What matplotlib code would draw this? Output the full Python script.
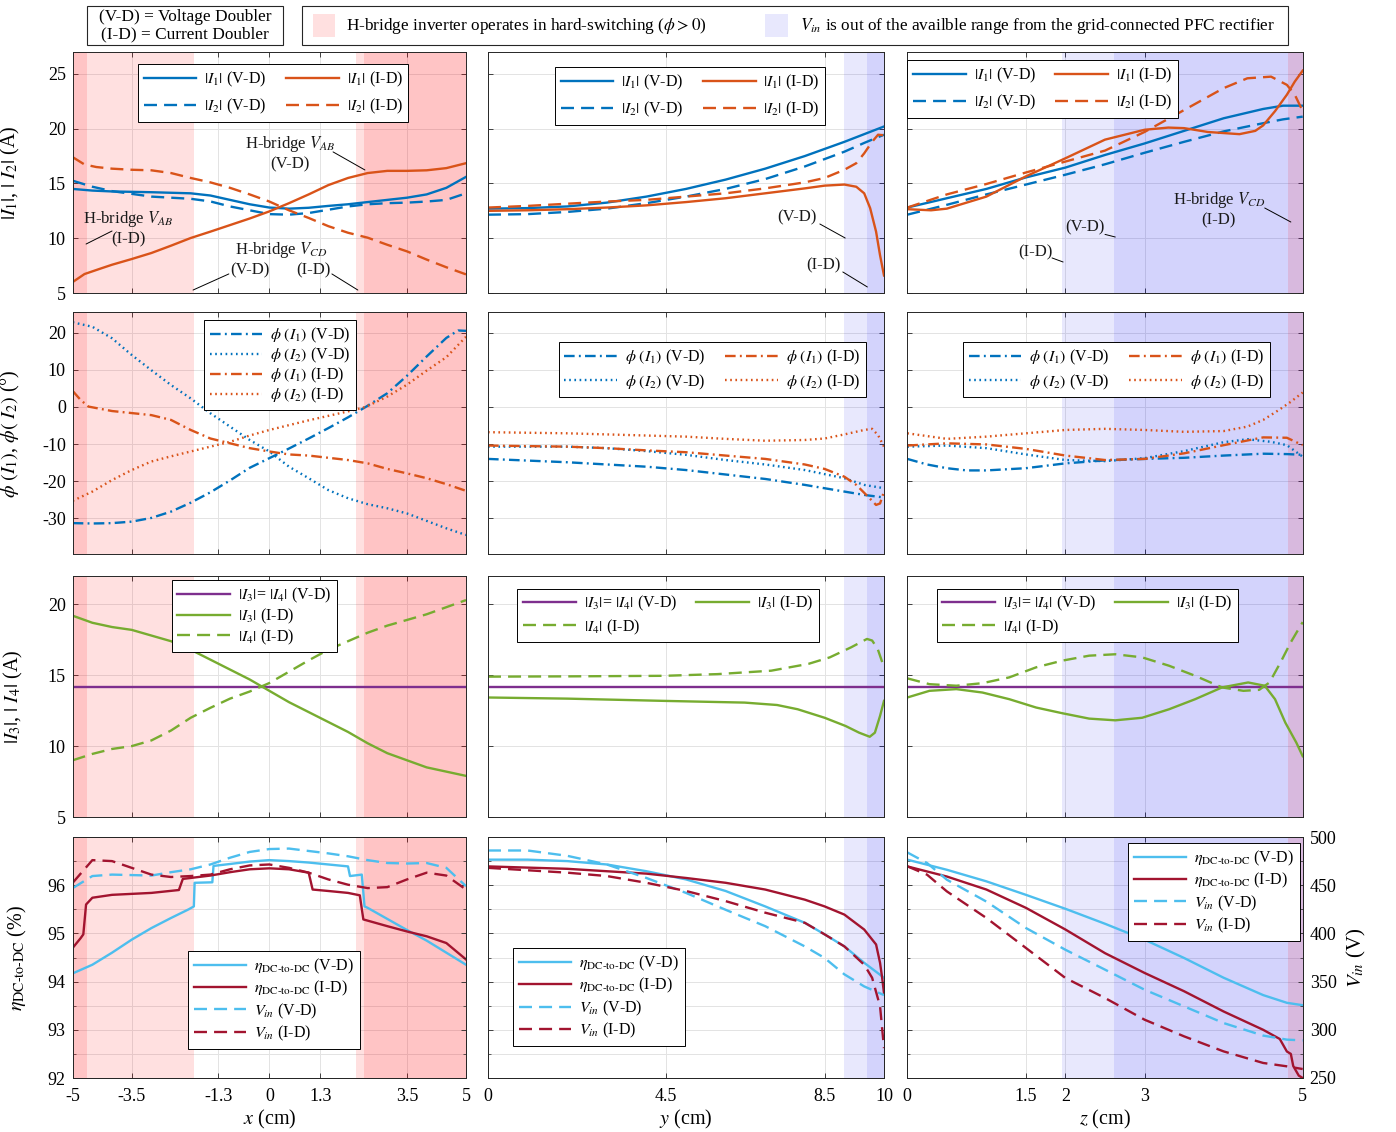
import matplotlib
matplotlib.use('Agg')
import matplotlib.pyplot as plt
from matplotlib.patches import Rectangle
from matplotlib.ticker import MultipleLocator

plt.rcParams['font.family'] = ['Liberation Serif', 'DejaVu Serif']
plt.rcParams['mathtext.fontset'] = 'stix'
plt.rcParams['axes.unicode_minus'] = False

# ---------------------------------------------------------------- data
# sweep positions (cm)
x_grid = [-5, -4.5, -4, -3.5, -3, -2.5, -2, -1.5, -1, -0.5, 0, 0.5, 1, 1.5, 2, 2.5, 3, 3.5, 4, 4.5, 5]
x_ticks = [-5, -3.5, -1.3, 0, 1.3, 3.5, 5]
x_ticklabels = ['-5', '-3.5', '-1.3', '0', '1.3', '3.5', '5']
y_ticks = [0, 4.5, 8.5, 10]
y_ticklabels = ['0', '4.5', '8.5', '10']
z_ticks = [0, 1.5, 2, 3, 5]
z_ticklabels = ['0', '1.5', '2', '3', '5']

# hard-switching and V_in out-of-range regions (cm)
hs_span_vd_x = [(-5, -1.92), (2.2, 5)]
hs_span_id_x = [(-5, -4.64), (2.41, 5)]
vin_span_vd_y = [(9.0, 10)]
vin_span_id_y = [(9.58, 10)]
vin_span_id_z = [(1.95, 5)]
vin_span_vd_z = [(2.62, 5)]
hs_span_id_z = [(4.82, 5)]

# |I1|, |I2| (A) -- x sweep
x_i12_vd = [-5, -4.5, -4, -3, -2, -1.5, -1, -0.5, 0, 0.5, 1, 1.5, 2, 2.5, 3, 3.5, 4, 4.5, 5]
i1_vd_x = [14.5, 14.35, 14.27, 14.2, 14.1, 13.9, 13.5, 13.1, 12.8, 12.7, 12.78, 12.95, 13.1, 13.3, 13.5, 13.7, 14.0, 14.6, 15.6]
i2_vd_x = [15.25, 14.7, 14.3, 13.8, 13.6, 13.36, 12.9, 12.55, 12.2, 12.15, 12.3, 12.6, 12.9, 13.1, 13.2, 13.25, 13.35, 13.5, 14.1]
x_i1_id = [-5, -4.7, -4.3, -4, -3.5, -3, -2.5, -2, -1.5, -1, -0.5, 0, 0.5, 1, 1.5, 2, 2.5, 3, 3.5, 4, 4.5, 5]
i1_id_x = [6.0, 6.73, 7.22, 7.58, 8.1, 8.65, 9.32, 10.02, 10.6, 11.2, 11.8, 12.45, 13.2, 14.0, 14.85, 15.5, 15.95, 16.15, 16.15, 16.2, 16.4, 16.85]
x_i2_id = [-5, -4.7, -4.4, -4, -3.5, -3, -2.5, -2, -1.5, -1, -0.5, 0, 0.5, 1, 1.5, 2, 2.5, 3, 3.5, 4, 4.5, 5]
i2_id_x = [17.4, 16.73, 16.5, 16.35, 16.25, 16.2, 15.95, 15.5, 15.1, 14.6, 14.0, 13.35, 12.55, 11.85, 11.1, 10.5, 10.05, 9.4, 8.8, 8.05, 7.35, 6.7]

# |I1|, |I2| (A) -- y sweep
y_i12_vd = [0, 1, 2, 3, 4, 5, 6, 7, 8, 9, 9.5, 10]
i1_vd_y = [12.7, 12.75, 12.9, 13.25, 13.8, 14.5, 15.35, 16.35, 17.5, 18.8, 19.5, 20.2]
i2_vd_y = [12.15, 12.2, 12.4, 12.7, 13.2, 13.8, 14.5, 15.4, 16.55, 17.9, 18.7, 19.45]
y_i1_id = [0, 1, 2, 3, 4, 5, 6, 7, 8, 8.5, 9, 9.3, 9.5, 9.65, 9.8, 9.9, 10]
i1_id_y = [12.5, 12.55, 12.65, 12.8, 13.0, 13.3, 13.65, 14.1, 14.55, 14.8, 14.9, 14.7, 14.1, 12.75, 10.6, 8.45, 6.6]
y_i2_id = [0, 1, 2, 3, 4, 5, 6, 7, 8, 8.5, 9, 9.3, 9.5, 9.7, 9.85, 10]
i2_id_y = [12.8, 12.95, 13.15, 13.35, 13.5, 13.8, 14.1, 14.55, 15.1, 15.5, 16.25, 16.85, 17.75, 18.8, 19.45, 19.4]

# |I1|, |I2| (A) -- z sweep
z_i12_vd = [0, 0.5, 1, 1.5, 2, 2.5, 3, 3.5, 4, 4.5, 4.75, 5]
i1_vd_z = [12.8, 13.65, 14.5, 15.55, 16.45, 17.6, 18.65, 19.8, 20.95, 21.8, 22.1, 22.1]
i2_vd_z = [12.15, 13.05, 14.0, 14.9, 15.8, 16.75, 17.8, 18.8, 19.75, 20.5, 20.85, 21.1]
z_i1_id = [0, 0.3, 0.5, 1, 1.5, 2, 2.5, 3, 3.3, 3.5, 3.8, 4.2, 4.4, 4.5, 4.65, 4.8, 4.9, 5]
i1_id_z = [12.65, 12.55, 12.7, 13.8, 15.65, 17.3, 19.0, 19.9, 20.1, 20.05, 19.7, 19.5, 19.8, 20.3, 21.6, 23.1, 24.3, 25.3]
z_i2_id = [0, 0.5, 1, 1.5, 2, 2.5, 3, 3.5, 4, 4.3, 4.6, 4.8, 4.9, 5]
i2_id_z = [12.8, 14.0, 14.95, 16.0, 17.0, 18.0, 19.7, 21.7, 23.7, 24.6, 24.75, 24.0, 23.1, 21.6]

# phase angles (deg) -- x sweep
x_p1_vd = [-5, -4.5, -4, -3.5, -3, -2.5, -2, -1.5, -1, -0.5, 0, 0.5, 1, 1.5, 2, 2.45, 3, 3.5, 4, 4.5, 4.8, 5]
p1_vd_x = [-31.3, -31.4, -31.3, -30.9, -29.9, -28.2, -25.8, -23.0, -19.8, -16.4, -13.8, -11.2, -8.5, -5.7, -2.8, 0.0, 3.7, 8.4, 13.6, 18.6, 20.6, 20.5]
p2_vd_x = [22.8, 21.6, 18.5, 14.0, 9.9, 5.9, 2.3, -1.7, -5.3, -8.9, -12.0, -16.1, -19.2, -22.4, -24.6, -26.2, -27.3, -28.7, -30.7, -32.7, -34.5]
x_p1_id = [-5, -4.8, -4.6, -4, -3, -2.5, -2, -1.5, -1, -0.5, 0, 0.5, 1, 1.5, 2, 2.5, 3, 3.5, 4, 4.5, 5]
p1_id_x = [4.3, 1.9, 0.1, -1.1, -2.2, -3.5, -6.2, -8.5, -9.8, -11.1, -12.0, -12.8, -13.1, -13.7, -14.3, -15.2, -16.7, -17.9, -19.2, -20.8, -22.6]
x_p2_id = [-5, -4.5, -4, -3.5, -3, -2.5, -2, -1.5, -1, -0.5, 0, 0.5, 1, 1.5, 2, 2.45, 3, 3.5, 4, 4.5, 5]
p2_id_x = [-25.3, -22.8, -19.7, -17.0, -14.7, -13.3, -12.0, -10.7, -9.4, -7.7, -6.2, -4.9, -3.6, -2.4, -1.2, 0.0, 2.8, 6.0, 9.8, 13.4, 18.9]

# phase angles (deg) -- y sweep
y_p1_vd = [0, 2, 4, 5, 6, 7, 8, 9, 9.5, 10]
p1_vd_y = [-14.0, -14.9, -16.1, -17.0, -18.2, -19.4, -21.0, -22.8, -23.7, -24.4]
y_p2_vd = [0, 2, 3, 4, 5, 6, 7, 8, 9, 9.5, 10]
p2_vd_y = [-10.7, -10.7, -11.1, -11.9, -12.9, -14.3, -15.5, -17.0, -19.2, -21.0, -21.9]
y_p1_id = [0, 2, 3, 4, 5, 6, 7, 8, 8.5, 9, 9.3, 9.6, 9.8, 9.9, 10]
p1_id_y = [-10.4, -10.7, -11.1, -11.7, -12.2, -13.1, -14.0, -15.5, -16.7, -18.8, -21.0, -24.2, -26.4, -26.0, -22.8]
y_p2_id = [0, 2, 4, 5, 6, 7, 8, 8.5, 9, 9.5, 9.7, 9.85, 10]
p2_id_y = [-6.8, -7.1, -7.7, -8.0, -8.6, -9.1, -8.9, -8.5, -7.4, -6.2, -5.9, -7.6, -10.7]

# phase angles (deg) -- z sweep
z_p1_vd = [0, 0.25, 0.5, 0.75, 1, 1.5, 2, 2.5, 3, 3.5, 4, 4.5, 4.8, 5]
p1_vd_z = [-14.0, -15.5, -16.5, -17.1, -17.1, -16.5, -15.2, -14.4, -14.0, -13.7, -13.1, -12.6, -12.7, -12.9]
z_p2_vd = [0, 0.5, 1, 1.5, 2, 2.5, 3, 3.5, 4, 4.3, 4.6, 4.8, 5]
p2_vd_z = [-10.7, -10.4, -11.1, -12.8, -14.3, -14.6, -13.8, -11.9, -9.5, -8.7, -9.4, -10.3, -13.4]
z_p1_id = [0, 0.5, 1, 1.5, 2, 2.5, 3, 3.5, 4, 4.5, 4.8, 5]
p1_id_z = [-10.4, -9.8, -10.1, -11.3, -13.1, -14.3, -14.0, -12.5, -10.3, -8.2, -8.3, -10.3]
z_p2_id = [0, 0.5, 1, 1.5, 2, 2.5, 3, 3.5, 4, 4.3, 4.5, 4.7, 4.85, 5]
p2_id_z = [-7.1, -8.6, -8.0, -7.1, -6.2, -5.9, -6.2, -6.7, -6.5, -5.3, -3.5, -0.8, 1.4, 3.9]

# |I3|, |I4| (A)
i34_vd = [14.15, 14.15]
i3_id_x = [19.2, 18.7, 18.4, 18.2, 17.8, 17.4, 16.8, 16.1, 15.4, 14.7, 13.9, 13.1, 12.4, 11.7, 11.0, 10.2, 9.5, 9.0, 8.5, 8.2, 7.9]
i4_id_x = [9.0, 9.45, 9.8, 10.0, 10.4, 11.1, 12.0, 12.7, 13.35, 13.85, 14.45, 15.25, 16.05, 16.8, 17.4, 18.0, 18.5, 18.9, 19.3, 19.8, 20.3]
y_i3_id = [0, 2, 4.46, 6.48, 7.3, 7.82, 8.5, 9.03, 9.37, 9.64, 9.77, 9.9, 10]
i3_id_y = [13.43, 13.35, 13.19, 13.07, 12.9, 12.6, 12.0, 11.42, 10.95, 10.66, 10.95, 12.13, 13.19]
y_i4_id = [0, 2, 4.46, 5.8, 7.15, 8.09, 8.63, 9.17, 9.57, 9.7, 9.84, 10]
i4_id_y = [14.9, 14.92, 14.96, 15.08, 15.32, 15.8, 16.26, 16.97, 17.56, 17.45, 16.86, 15.56]
z_i3_id = [0, 0.28, 0.62, 0.95, 1.29, 1.63, 1.96, 2.3, 2.63, 2.97, 3.31, 3.64, 3.98, 4.31, 4.52, 4.65, 4.78, 4.92, 5]
i3_id_z = [13.43, 13.9, 14.02, 13.78, 13.31, 12.72, 12.32, 11.94, 11.82, 12.0, 12.6, 13.31, 14.14, 14.49, 14.26, 13.31, 11.66, 10.24, 9.29]
z_i4_id = [0, 0.28, 0.62, 0.95, 1.29, 1.63, 1.96, 2.3, 2.63, 2.97, 3.31, 3.64, 3.98, 4.25, 4.45, 4.58, 4.72, 4.85, 5]
i4_id_z = [14.78, 14.37, 14.26, 14.44, 14.85, 15.56, 16.03, 16.38, 16.48, 16.26, 15.67, 14.96, 14.14, 13.9, 13.97, 14.49, 15.91, 17.33, 18.75]

# DC-to-DC efficiency (%) and input voltage (V) -- x sweep
x_eta_vd = [-5, -4.5, -4, -3.5, -3, -2.5, -2.05, -1.92, -1.9, -1.45, -1.42, -1, -0.5, 0, 0.5, 1, 1.5, 2.0, 2.05, 2.35, 2.42, 2.5, 3, 3.5, 4, 4.5, 5]
eta_vd_x = [94.17, 94.35, 94.6, 94.87, 95.11, 95.32, 95.5, 95.56, 96.05, 96.06, 96.4, 96.44, 96.49, 96.52, 96.5, 96.47, 96.43, 96.39, 96.19, 96.22, 95.56, 95.53, 95.3, 95.07, 94.85, 94.6, 94.35]
x_eta_id = [-5, -4.8, -4.73, -4.66, -4.5, -4, -3, -2.3, -2.2, -1.5, -1, -0.5, 0, 0.5, 1, 1.1, 1.5, 2, 2.3, 2.39, 3, 3.5, 4, 4.5, 5]
eta_id_x = [94.7, 94.9, 94.98, 95.6, 95.74, 95.8, 95.84, 95.9, 96.13, 96.2, 96.27, 96.33, 96.35, 96.33, 96.26, 95.91, 95.88, 95.84, 95.79, 95.29, 95.15, 95.04, 94.94, 94.8, 94.46]
vin_vd_x = [447.0, 459.5, 461.0, 460.5, 460.0, 463.5, 466.5, 471.5, 478.5, 484.5, 487.5, 488.0, 485.5, 483.0, 480.0, 476.0, 473.0, 472.5, 473.0, 468.0, 449.0]
vin_id_x = [452.5, 476.0, 475.0, 468.0, 461.0, 458.5, 459.5, 461.0, 466.5, 470.5, 471.5, 468.0, 463.0, 456.0, 450.5, 447.0, 448.0, 456.0, 463.0, 460.0, 445.5]

# DC-to-DC efficiency (%) and input voltage (V) -- y sweep
y_eta_vd = [0, 1, 2, 3, 4, 5, 6, 7, 8, 8.5, 9, 9.5, 10]
eta_vd_y = [96.53, 96.53, 96.5, 96.43, 96.29, 96.12, 95.88, 95.56, 95.22, 94.98, 94.73, 94.39, 94.08]
y_eta_id = [0, 2, 4, 5, 6, 7, 8, 8.5, 9, 9.5, 9.8, 9.9, 9.95, 10]
eta_id_y = [96.39, 96.34, 96.24, 96.15, 96.05, 95.91, 95.7, 95.56, 95.39, 95.08, 94.77, 94.39, 94.1, 93.76]
y_vin_vd = [0, 1, 2, 3, 4, 5, 6, 7, 8, 8.5, 9, 9.5, 10]
vin_vd_y = [486.0, 486.0, 480.5, 471.5, 457.5, 442.0, 424.5, 407.5, 386.5, 374.5, 357.5, 345.0, 336.0]
y_vin_id = [0, 2, 3, 4, 5, 6, 7, 8, 8.5, 9, 9.5, 9.7, 9.9, 10]
vin_id_y = [468.0, 463.0, 459.5, 452.5, 444.0, 433.5, 421.5, 411.0, 399.0, 386.5, 367.5, 354.0, 324.5, 281.0]

# DC-to-DC efficiency (%) and input voltage (V) -- z sweep
z_eta_vd = [0, 0.5, 1, 1.5, 2, 2.5, 3, 3.5, 4, 4.5, 4.8, 5]
eta_vd_z = [96.53, 96.32, 96.08, 95.8, 95.51, 95.2, 94.87, 94.49, 94.08, 93.72, 93.56, 93.51]
z_eta_id = [0, 0.5, 1, 1.5, 2, 2.5, 3, 3.5, 4, 4.5, 4.71, 4.8, 4.85, 4.88, 4.95, 5]
eta_id_z = [96.39, 96.18, 95.91, 95.53, 95.08, 94.59, 94.18, 93.8, 93.38, 93.0, 92.81, 92.55, 92.5, 92.25, 92.05, 92.0]
z_vin = [0, 0.25, 0.5, 1, 1.5, 2, 2.5, 3, 3.5, 4, 4.5, 4.8, 5]
vin_vd_z = [484.0, 473.0, 455.7, 433.0, 405.6, 383.0, 362.4, 341.6, 324.3, 307.0, 294.0, 289.8, 289.0]
vin_id_z = [469.6, 460.9, 443.6, 416.0, 384.9, 353.7, 333.0, 310.5, 293.2, 277.6, 265.6, 262.1, 259.3]

# ---------------------------------------------------------------- style
BLUE, ORANGE = '#0072BD', '#D95319'
PURPLE, GREEN = '#7E2F8E', '#77AC30'
LBLUE, DRED = '#4DBEEE', '#A2142F'
PINK = (1.0, 0.0, 0.03)
LAV = (0.0, 0.0, 0.95)
PINK_A, LAV_A = 0.12, 0.09
AXC = '#262626'
LW = 1.7
DASH = (5.5, 3.0)
DASHDOT = (4.5, 1.8, 0.8, 1.8)
DOT = (0.7, 1.5)
FS_TICK = 13
FS_LEG = 11.5
FS_LAB = 14.5

W, H = 1396, 1132
fig = plt.figure(figsize=(W / 100, H / 100), dpi=100)

COLS = [(72.7, 466.0), (488.0, 884.0), (907.3, 1302.7)]
ROWS = [(52.0, 293.0), (312.3, 554.3), (576.0, 817.0), (837.0, 1078.0)]
XLIMS = [(-5, 5), (0, 10), (0, 5)]
XTICKS = [(x_ticks, x_ticklabels), (y_ticks, y_ticklabels), (z_ticks, z_ticklabels)]
XLABELS = [r'$x$ (cm)', r'$y$ (cm)', r'$z$ (cm)']
YLIMS = [(5, 27), (-39.7, 25.5), (5, 22), (92, 97)]
YTICKS = [[5, 10, 15, 20, 25], [-30, -20, -10, 0, 10, 20], [5, 10, 15, 20], [92, 93, 94, 95, 96]]
YLABELS = [r'$|I_{\mathit{1}}|$, $|\ I_{\mathit{2}}|$ (A)',
           r'$\phi\ (I_{\mathit{1}})$, $\phi(\ I_{\mathit{2}})$ (°)',
           r'$|I_{\mathit{3}}|$, $|\ I_{\mathit{4}}|$ (A)',
           r'$\eta_{\mathrm{DC‐to‐DC}}$ (%)']
YLABEL_X = [-0.128, -0.128, -0.122, -0.112]


def add_ax(col, row):
    l, r = COLS[col]
    t, b = ROWS[row]
    return fig.add_axes([l / W, 1 - b / H, (r - l) / W, (b - t) / H])


def shade(ax, col):
    if col == 0:
        groups = [(hs_span_vd_x, PINK, PINK_A), (hs_span_id_x, PINK, PINK_A)]
    elif col == 1:
        groups = [(vin_span_vd_y, LAV, LAV_A), (vin_span_id_y, LAV, LAV_A)]
    else:
        groups = [(vin_span_id_z, LAV, LAV_A), (vin_span_vd_z, LAV, LAV_A),
                  (hs_span_id_z, PINK, PINK_A)]
    for spans, colr, alp in groups:
        for lo, hi in spans:
            ax.axvspan(lo, hi, color=colr, alpha=alp, lw=0, zorder=0.6)


def style(ax, col, row):
    ax.set_xlim(*XLIMS[col])
    ax.set_ylim(*YLIMS[row])
    ticks, labels = XTICKS[col]
    ax.set_xticks(ticks)
    ax.set_yticks(YTICKS[row])
    if row == 3:
        ax.set_xticklabels(labels)
        ax.set_xlabel(XLABELS[col], fontsize=FS_LAB, labelpad=2)
    else:
        ax.set_xticklabels([])
    if col == 0:
        ax.set_yticklabels([str(v) for v in YTICKS[row]])
        ax.set_ylabel(YLABELS[row], fontsize=FS_LAB)
        ax.yaxis.set_label_coords(YLABEL_X[row], 0.5)
    else:
        ax.set_yticklabels([])
    ax.tick_params(direction='in', top=True, right=(row != 3), length=3.5, width=0.6,
                   labelsize=FS_TICK, colors=AXC, labelcolor='black', pad=5)
    ax.tick_params(axis='x', pad=7)
    for s in ax.spines.values():
        s.set_linewidth(0.7)
        s.set_color(AXC)
    ax.set_axisbelow(True)
    ax.grid(True, color='#e3e3e3', lw=0.7)
    if row == 3:
        ax.yaxis.set_minor_locator(MultipleLocator(0.5))
        ax.tick_params(which='minor', direction='in', length=2.5, width=0.5, colors=AXC)
        ax.grid(True, which='minor', axis='y', color='#e3e3e3', lw=0.7)
    shade(ax, col)


def legend(ax, handles, loc_xy, ncol=1, spacing=0.35):
    lg = ax.legend(handles=handles, loc='upper left', bbox_to_anchor=loc_xy, ncol=ncol,
                   fontsize=FS_LEG, frameon=True, fancybox=False, framealpha=1,
                   edgecolor='black', handlelength=3.3, handletextpad=0.5,
                   borderpad=0.35, labelspacing=spacing, columnspacing=1.2,
                   borderaxespad=0)
    lg.get_frame().set_linewidth(0.7)
    return lg


def note(ax, text, xy, fs=12):
    ax.text(xy[0], xy[1], text, ha='center', va='center', fontsize=fs,
            multialignment='center', color='#1a1a1a', zorder=5)


def leader(ax, p0, p1):
    ax.annotate('', xy=p1, xytext=p0,
                arrowprops=dict(arrowstyle='-', lw=0.7, color='black', shrinkA=0, shrinkB=0))


lab_i1vd = r'$|I_{\mathit{1}}|$ (V-D)'
lab_i2vd = r'$|I_{\mathit{2}}|$ (V-D)'
lab_i1id = r'$|I_{\mathit{1}}|$ (I-D)'
lab_i2id = r'$|I_{\mathit{2}}|$ (I-D)'
lab_p1vd = r'$\phi\ (I_{\mathit{1}})$ (V-D)'
lab_p2vd = r'$\phi\ (I_{\mathit{2}})$ (V-D)'
lab_p1id = r'$\phi\ (I_{\mathit{1}})$ (I-D)'
lab_p2id = r'$\phi\ (I_{\mathit{2}})$ (I-D)'
lab_i34 = r'$|I_{\mathit{3}}|$= $|I_{\mathit{4}}|$ (V-D)'
lab_i3 = r'$|I_{\mathit{3}}|$ (I-D)'
lab_i4 = r'$|I_{\mathit{4}}|$ (I-D)'
lab_evd = r'$\eta_{\mathrm{DC‐to‐DC}}$ (V-D)'
lab_eid = r'$\eta_{\mathrm{DC‐to‐DC}}$ (I-D)'
lab_vvd = r'$V_{in}$ (V-D)'
lab_vid = r'$V_{in}$ (I-D)'

# ---------------------------------------------------------------- row 1: |I1|, |I2|
row1 = [
    (x_i12_vd, i1_vd_x, i2_vd_x, x_i1_id, i1_id_x, x_i2_id, i2_id_x),
    (y_i12_vd, i1_vd_y, i2_vd_y, y_i1_id, i1_id_y, y_i2_id, i2_id_y),
    (z_i12_vd, i1_vd_z, i2_vd_z, z_i1_id, i1_id_z, z_i2_id, i2_id_z),
]
row1_leg = [(0.166, 0.950), (0.169, 0.938), (0.0, 0.967)]
for c, (xv, s1, s2, xc, s3, xd, s4) in enumerate(row1):
    ax = add_ax(c, 0)
    style(ax, c, 0)
    h1, = ax.plot(xv, s1, color=BLUE, lw=LW, label=lab_i1vd)
    h2, = ax.plot(xv, s2, color=BLUE, lw=LW, dashes=DASH, label=lab_i2vd)
    h3, = ax.plot(xc, s3, color=ORANGE, lw=LW, label=lab_i1id)
    h4, = ax.plot(xd, s4, color=ORANGE, lw=LW, dashes=DASH, label=lab_i2id)
    legend(ax, [h1, h2, h3, h4], row1_leg[c], ncol=2, spacing=0.5)
    if c == 0:
        note(ax, 'H-bridge $V_{AB}$\n(V-D)', (0.53, 17.8))
        leader(ax, (1.62, 17.88), (2.43, 16.23))
        note(ax, 'H-bridge $V_{AB}$\n(I-D)', (-3.59, 10.94))
        leader(ax, (-4.0, 10.66), (-4.66, 9.47))
        note(ax, 'H-bridge $V_{CD}$', (0.30, 8.93))
        note(ax, '(V-D)', (-0.49, 7.1))
        note(ax, '(I-D)', (1.11, 7.1))
        leader(ax, (-1.03, 6.74), (-1.94, 5.27))
        leader(ax, (1.59, 6.74), (2.25, 5.27))
    elif c == 1:
        note(ax, '(V-D)', (7.8, 11.94))
        leader(ax, (8.38, 11.3), (9.02, 10.02))
        note(ax, '(I-D)', (8.48, 7.56))
        leader(ax, (8.96, 6.92), (9.58, 5.55))
    else:
        note(ax, 'H-bridge $V_{CD}$\n(I-D)', (3.94, 12.67))
        leader(ax, (4.52, 12.76), (4.85, 11.48))
        note(ax, '(V-D)', (2.24, 11.03))
        leader(ax, (2.5, 10.35), (2.63, 10.11))
        note(ax, '(I-D)', (1.62, 8.74))
        leader(ax, (1.83, 8.2), (1.97, 7.83))

# ---------------------------------------------------------------- row 2: phase angles
row2 = [
    (x_p1_vd, p1_vd_x, x_grid, p2_vd_x, x_p1_id, p1_id_x, x_p2_id, p2_id_x),
    (y_p1_vd, p1_vd_y, y_p2_vd, p2_vd_y, y_p1_id, p1_id_y, y_p2_id, p2_id_y),
    (z_p1_vd, p1_vd_z, z_p2_vd, p2_vd_z, z_p1_id, p1_id_z, z_p2_id, p2_id_z),
]
row2_leg = [((0.334, 0.968), 1, 0.05), ((0.179, 0.877), 2, 0.35), ((0.141, 0.877), 2, 0.35)]
for c, (xa, s1, xb, s2, xc, s3, xd, s4) in enumerate(row2):
    ax = add_ax(c, 1)
    style(ax, c, 1)
    h1, = ax.plot(xa, s1, color=BLUE, lw=LW, dashes=DASHDOT, label=lab_p1vd)
    h2, = ax.plot(xb, s2, color=BLUE, lw=LW, dashes=DOT, label=lab_p2vd)
    h3, = ax.plot(xc, s3, color=ORANGE, lw=LW, dashes=DASHDOT, label=lab_p1id)
    h4, = ax.plot(xd, s4, color=ORANGE, lw=LW, dashes=DOT, label=lab_p2id)
    pos, nc, sp = row2_leg[c]
    legend(ax, [h1, h2, h3, h4], pos, ncol=nc, spacing=sp)

# ---------------------------------------------------------------- row 3: |I3|, |I4|
row3 = [
    (XLIMS[0], x_grid, i3_id_x, x_grid, i4_id_x),
    (XLIMS[1], y_i3_id, i3_id_y, y_i4_id, i4_id_y),
    (XLIMS[2], z_i3_id, i3_id_z, z_i4_id, i4_id_z),
]
row3_leg = [(0.252, 0.983), (0.074, 0.948), (0.074, 0.948)]
for c, (lim, xa, s1, xb, s2) in enumerate(row3):
    ax = add_ax(c, 2)
    style(ax, c, 2)
    h1, = ax.plot(list(lim), i34_vd, color=PURPLE, lw=LW, label=lab_i34)
    h2, = ax.plot(xa, s1, color=GREEN, lw=LW, label=lab_i3)
    h3, = ax.plot(xb, s2, color=GREEN, lw=LW, dashes=DASH, label=lab_i4)
    if c == 0:
        legend(ax, [h1, h2, h3], row3_leg[c], ncol=1, spacing=0.1)
    else:
        legend(ax, [h1, h3, h2], row3_leg[c], ncol=2, spacing=0.25)

# ---------------------------------------------------------------- row 4: efficiency and V_in
row4 = [
    (x_eta_vd, eta_vd_x, x_eta_id, eta_id_x, x_grid, vin_vd_x, x_grid, vin_id_x),
    (y_eta_vd, eta_vd_y, y_eta_id, eta_id_y, y_vin_vd, vin_vd_y, y_vin_id, vin_id_y),
    (z_eta_vd, eta_vd_z, z_eta_id, eta_id_z, z_vin, vin_vd_z, z_vin, vin_id_z),
]
row4_leg = [(0.293, 0.527), (0.063, 0.539), (0.558, 0.975)]
for c, (xa, s1, xb, s2, xc, s3, xd, s4) in enumerate(row4):
    ax = add_ax(c, 3)
    style(ax, c, 3)
    tw = ax.twinx()
    tw.set_ylim(250, 500)
    tw.set_yticks([250, 300, 350, 400, 450, 500])
    tw.yaxis.set_minor_locator(MultipleLocator(25))
    tw.tick_params(direction='in', length=3.5, width=0.6, labelsize=FS_TICK,
                   colors=AXC, labelcolor='black', pad=5)
    tw.tick_params(which='minor', direction='in', length=2.5, width=0.5, colors=AXC)
    for s in tw.spines.values():
        s.set_linewidth(0.7)
        s.set_color(AXC)
    if c == 2:
        tw.set_yticklabels(['250', '300', '350', '400', '450', '500'])
        tw.set_ylabel(r'$V_{in}$ (V)', fontsize=FS_LAB + 0.5, labelpad=6)
    else:
        tw.set_yticklabels([])
    h1, = ax.plot(xa, s1, color=LBLUE, lw=LW, label=lab_evd)
    h2, = ax.plot(xb, s2, color=DRED, lw=LW, label=lab_eid)
    h3, = tw.plot(xc, s3, color=LBLUE, lw=LW, dashes=DASH, label=lab_vvd)
    h4, = tw.plot(xd, s4, color=DRED, lw=LW, dashes=DASH, label=lab_vid)
    legend(tw, [h1, h2, h3, h4], row4_leg[c], ncol=1, spacing=0.2)

# ---------------------------------------------------------------- top key
def fig_box(l, t, r, b, **kw):
    fig.add_artist(Rectangle((l / W, 1 - b / H), (r - l) / W, (b - t) / H,
                             transform=fig.transFigure, **kw))


FS_KEY = 12.4
fig_box(87, 6, 283, 45, facecolor='white', edgecolor=AXC, lw=0.8)
fig.text(185 / W, 1 - 17 / H, '(V-D) = Voltage Doubler', ha='center', va='center', fontsize=FS_KEY)
fig.text(185 / W, 1 - 34 / H, '(I-D) = Current Doubler', ha='center', va='center', fontsize=FS_KEY)

fig_box(302, 6, 1288, 45, facecolor='white', edgecolor=AXC, lw=0.8)
fig_box(313, 14, 335, 37, facecolor=PINK, alpha=PINK_A, lw=0)
fig.text(346 / W, 1 - 26 / H, r'H-bridge inverter operates in hard-switching ($\phi > 0$)',
         ha='left', va='center', fontsize=FS_KEY)
fig_box(765, 14, 788, 37, facecolor=LAV, alpha=LAV_A, lw=0)
fig.text(800 / W, 1 - 26 / H,
         r'$V_{in}$ is out of the availble range from the grid-connected PFC rectifier',
         ha='left', va='center', fontsize=FS_KEY)

fig.savefig('out.png', dpi=100)
